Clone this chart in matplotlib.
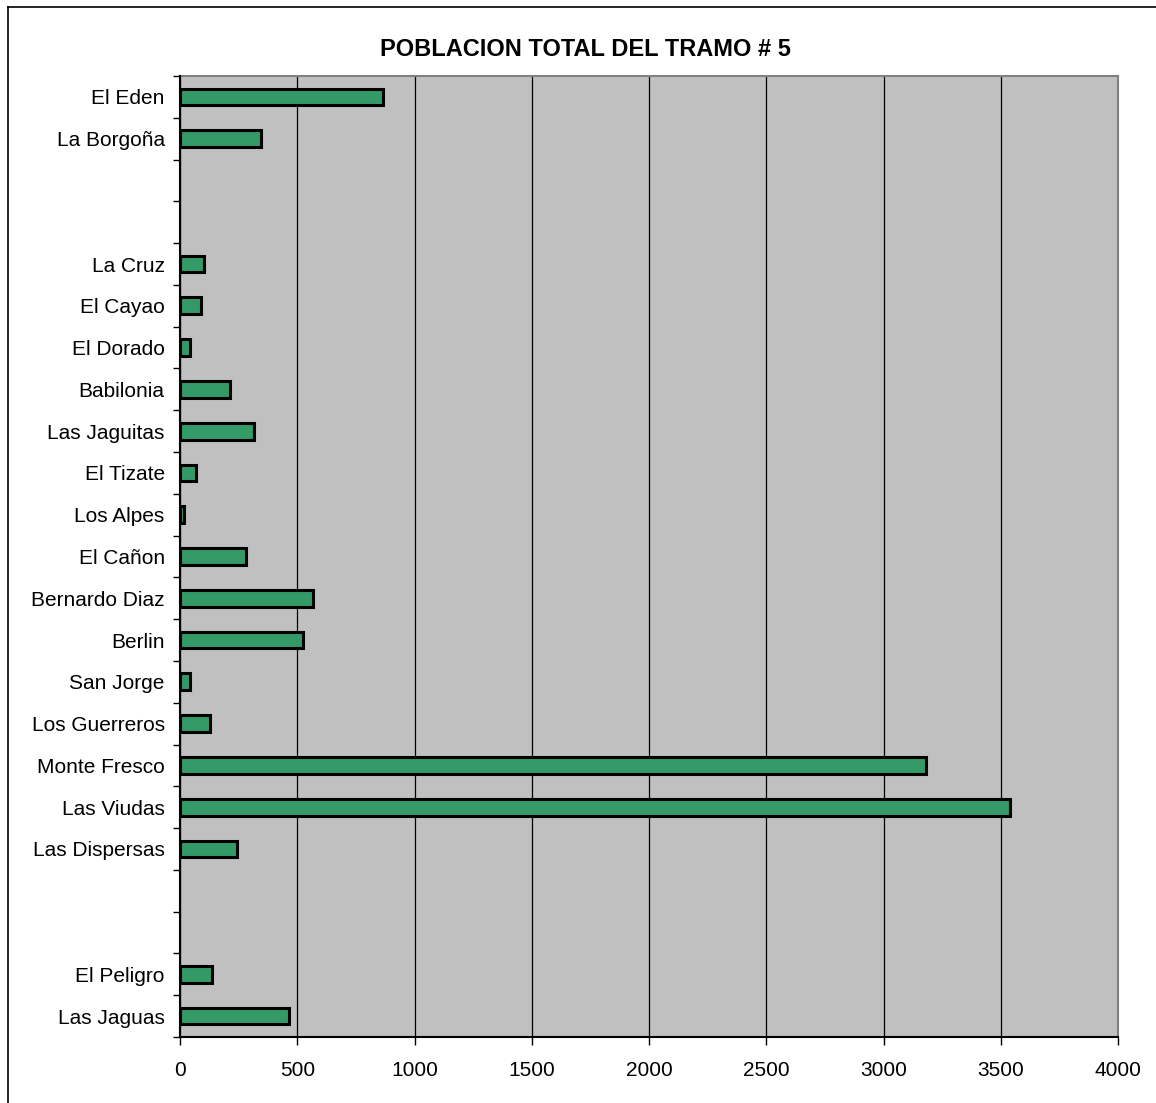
import matplotlib.pyplot as plt
import numpy as np
from matplotlib.lines import Line2D

plt.rcParams['font.family'] = ['Liberation Sans', 'DejaVu Sans']

# categories top to bottom, blank slots are empty gaps in the chart
labels = ["El Eden", "La Borgoña", "", "", "La Cruz", "El Cayao", "El Dorado",
          "Babilonia", "Las Jaguitas", "El Tizate", "Los Alpes", "El Cañon",
          "Bernardo Diaz", "Berlin", "San Jorge", "Los Guerreros", "Monte Fresco",
          "Las Viudas", "Las Dispersas", "", "", "El Peligro", "Las Jaguas"]
values = [864, 347, 0, 0, 103, 88, 41, 212, 316, 67, 17, 283, 569, 524, 41, 130,
          3181, 3539, 241, 0, 0, 135, 463]
xticks = [0, 500, 1000, 1500, 2000, 2500, 3000, 3500, 4000]

fig = plt.figure(figsize=(11.56, 11.03), dpi=100)
ax = fig.add_axes([180/1156, 1 - 1037/1103, (1118-180)/1156, (1037-76)/1103])
ax.set_facecolor('#C0C0C0')

y = np.arange(len(labels))
vals = np.array(values, dtype=float)
has = np.array([l != "" for l in labels])
ax.barh(y[has], vals[has], height=0.4, color='#339966', edgecolor='black',
        linewidth=2.2, zorder=3)

ax.set_xlim(0, 4000)
ax.set_ylim(len(labels) - 0.5, -0.5)
ax.set_xticks(xticks)
ax.set_xticklabels([str(t) for t in xticks], fontsize=15)
ax.set_yticks(y)
ax.set_yticklabels(labels, fontsize=15)
ax.set_yticks(np.arange(len(labels) + 1) - 0.5, minor=True)
ax.tick_params(axis='y', which='major', length=0, pad=11)
ax.tick_params(axis='y', which='minor', length=5, width=1, direction='out')
ax.tick_params(axis='x', which='major', length=6, width=1, direction='out', pad=11)

ax.grid(axis='x', color='black', linewidth=0.9, zorder=1)
ax.set_axisbelow(True)
for s in ['top', 'right']:
    ax.spines[s].set_color('#808080')
    ax.spines[s].set_linewidth(1.5)
for s in ['left', 'bottom']:
    ax.spines[s].set_color('black')
    ax.spines[s].set_linewidth(1.5)
    ax.spines[s].set_zorder(4)

fig.text(585/1156, 1 - 50/1103, "POBLACION TOTAL DEL TRAMO # 5", ha='center', va='center',
         fontsize=17, fontweight='bold')

# outer chart border
fig.add_artist(Line2D([8/1156, 8/1156], [0, 1 - 7/1103], transform=fig.transFigure,
                      color='black', linewidth=1.2))
fig.add_artist(Line2D([8/1156, 1], [1 - 7/1103, 1 - 7/1103], transform=fig.transFigure,
                      color='black', linewidth=1.2))

fig.savefig('out.png', dpi=100, facecolor='white')
